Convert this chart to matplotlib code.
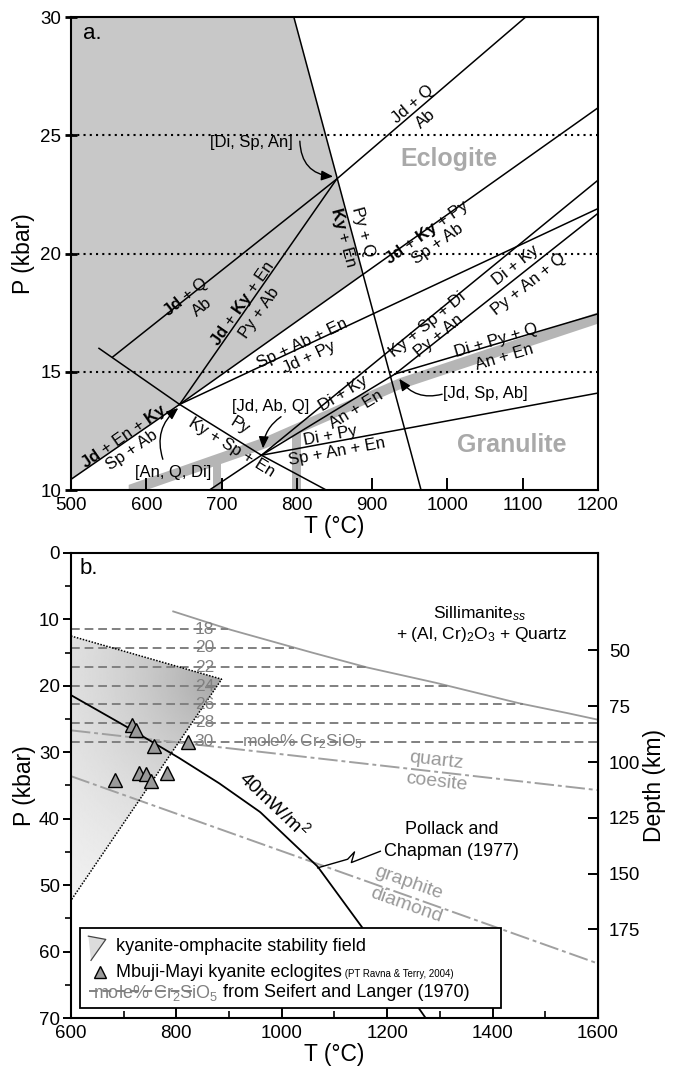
import numpy as np
import matplotlib.pyplot as plt
from matplotlib.patches import Polygon, Rectangle

plt.rcParams['font.family'] = ['Liberation Sans', 'DejaVu Sans']
plt.rcParams['mathtext.fontset'] = 'custom'
plt.rcParams['mathtext.rm'] = 'Liberation Sans'
plt.rcParams['mathtext.bf'] = 'Liberation Sans:bold'
plt.rcParams['mathtext.it'] = 'Liberation Sans:italic'

# ---------------- panel a: petrogenetic grid (T in degC, P in kbar)
inv_DiSpAn = (853, 23.15)
inv_AnQDi = (644.3, 13.62)
inv_JdAbQ = (753, 11.47)
inv_JdSpAb = (930.7, 14.91)

KyEn_PyQ = ([796, 965], [30, 10])
JdQ_Ab = ([555.6, 853, 1104], [15.63, 23.15, 30])
JdKyEn_PyAb = ([644.3, 853], [13.62, 23.15])
JdKyPy_SpAb = ([644.3, 1200], [13.62, 26.16])
SpAbEn_JdPy = ([644.3, 1200], [13.62, 21.9])
JdEnKy_SpAb = ([500, 644.3], [10.45, 13.62])
KySpEn_Py = ([537.2, 644.3, 753, 839], [15.99, 13.62, 11.47, 10])
DiKy_AnEn = ([684, 753, 930.7], [10, 11.47, 14.91])
KySpDi_PyAn = ([753, 1200], [11.47, 23.1])
DiPy_SpAnEn = ([753, 1200], [11.47, 14.1])
DiPyQ_AnEn = ([930.7, 1200], [14.91, 17.45])
DiKy_PyAnQ = ([930.7, 1200], [14.91, 21.7])

band_T = [576, 756, 935, 1200]
band_P = [10.0, 12.0, 14.5, 17.3]
bar_T = [(689, 699), (794, 806)]
dotted_P = [15, 20, 25]

# ---------------- panel b
sill_T = [794, 900, 1039, 1160, 1285, 1449, 1530, 1600]
sill_P = [8.8, 11.5, 14.6, 17.2, 19.4, 22.6, 23.9, 25.1]
iso_P = [11.45, 14.26, 17.18, 20.04, 22.75, 25.56, 28.42]
iso_lab = ['18', '20', '22', '24', '26', '28', '30']
qz_coe = ([600, 1600], [26.7, 35.7])
gr_dia = ([600, 1600], [33.6, 61.8])
geo_T = [600, 700, 800, 880, 959, 1068, 1154, 1273]
geo_P = [21.4, 25.9, 30.6, 34.6, 39.0, 47.2, 56.5, 70.0]
field_T = [600, 886, 600]
field_P = [12.5, 19.0, 52.3]
ecl_T = [716, 724, 757, 822, 684, 730, 742, 751, 782]
ecl_P = [25.9, 26.7, 29.1, 28.5, 34.2, 33.1, 33.2, 34.4, 33.1]
depth_ticks = [50, 75, 100, 125, 150, 175]


def p2d(p):
    return (np.asarray(p) + 2.13) / 0.336


def d2p(d):
    return 0.336 * np.asarray(d) - 2.13


def ang(ax, p0, p1):
    a = ax.transData.transform([p0, p1])
    return np.degrees(np.arctan2(a[1][1] - a[0][1], a[1][0] - a[0][0]))


def lab(ax, s, x, y, line, i=0, **kw):
    xs, ys = line
    r = ang(ax, (xs[i], ys[i]), (xs[i + 1], ys[i + 1]))
    kw.setdefault('fontsize', 12)
    ax.text(x, y, s, rotation=r, rotation_mode='anchor', ha='center',
            va='center', zorder=6, **kw)


fig = plt.figure(figsize=(6.74, 10.76), dpi=100)
axa = fig.add_axes([0.1053, 0.5446, 0.7819, 0.4396])
axb = fig.add_axes([0.1053, 0.0539, 0.7819, 0.4322])

# ================= panel a
axa.set_xlim(500, 1200)
axa.set_ylim(10, 30)

# grey field (left of Ky+En=Py+Q, above Jd+Ky+Py line)
t0, p0 = KyEn_PyQ
t1, p1 = JdKyPy_SpAb
m0 = (p0[1] - p0[0]) / (t0[1] - t0[0])
m1 = (p1[1] - p1[0]) / (t1[1] - t1[0])
tx = (p1[0] - m1 * t1[0] - p0[0] + m0 * t0[0]) / (m0 - m1)
px = p1[0] + m1 * (tx - t1[0])
shade = Polygon([(500, 30), (t0[0], 30), (tx, px), inv_AnQDi,
                 (JdEnKy_SpAb[0][0], JdEnKy_SpAb[1][0])],
                closed=True, facecolor='#c8c8c8', edgecolor='none', zorder=0)
axa.add_patch(shade)

bt = np.linspace(band_T[0], band_T[-1], 100)
bp = np.interp(bt, band_T, band_P)
axa.fill_between(bt, bp - 0.24, bp + 0.24, color='#b5b5b5', lw=0, zorder=1)
for a, b in bar_T:
    top = np.interp((a + b) / 2, band_T, band_P)
    axa.fill_between([a, b], [10, 10], [top, top], color='#b5b5b5', lw=0, zorder=1)

for p in dotted_P:
    axa.axhline(p, color='k', lw=1.5, ls=(0, (1, 2.0)), zorder=2)

for ln in [KyEn_PyQ, JdQ_Ab, JdKyEn_PyAb, JdKyPy_SpAb, SpAbEn_JdPy, JdEnKy_SpAb,
           KySpEn_Py, DiKy_AnEn, KySpDi_PyAn, DiPy_SpAnEn, DiPyQ_AnEn, DiKy_PyAnQ]:
    axa.plot(ln[0], ln[1], color='k', lw=1.1, zorder=3)

bf = r'$\mathbf{Jd}$'
bk = r'$\mathbf{Ky}$'
lab(axa, 'Jd + Q', 953.6, 26.3, JdQ_Ab, 1)
lab(axa, 'Ab', 971, 25.7, JdQ_Ab, 1)
lab(axa, bf + ' + Q', 652.9, 18.15, JdQ_Ab, 0)
lab(axa, 'Ab', 674.7, 17.75, JdQ_Ab, 0)
lab(axa, bf + ' + ' + bk + ' + En', 728.5, 17.86, JdKyEn_PyAb)
lab(axa, 'Py + Ab', 750, 17.5, JdKyEn_PyAb)
lab(axa, bk + ' + En', 861, 20.7, KyEn_PyQ)
lab(axa, 'Py + Q', 888, 20.9, KyEn_PyQ)
lab(axa, bf + ' + ' + bk + ' + Py', 973.6, 20.9, JdKyPy_SpAb)
lab(axa, 'Sp + Ab', 987, 20.4, JdKyPy_SpAb)
lab(axa, 'Sp + Ab + En', 807.6, 16.2, SpAbEn_JdPy)
lab(axa, 'Jd + Py', 816, 15.6, SpAbEn_JdPy)
lab(axa, 'Ky + Sp + Di', 973.6, 17.0, KySpDi_PyAn)
lab(axa, 'Py + An', 989, 16.5, KySpDi_PyAn)
lab(axa, 'Di + Ky', 1091, 19.5, DiKy_PyAnQ)
lab(axa, 'Py + An + Q', 1108, 18.7, DiKy_PyAnQ)
lab(axa, 'Di + Py + Q', 1065, 16.3, DiPyQ_AnEn)
lab(axa, 'An + En', 1075.6, 15.6, DiPyQ_AnEn)
lab(axa, 'Di + Ky', 862, 14.1, DiKy_AnEn, 1)
lab(axa, 'An + En', 879, 13.4, DiKy_AnEn, 1)
lab(axa, 'Py', 724.5, 12.7, KySpEn_Py, 1)
lab(axa, 'Ky + Sp + En', 713, 11.8, KySpEn_Py, 1)
lab(axa, 'Di + Py', 844.8, 12.3, DiPy_SpAnEn)
lab(axa, 'Sp + An + En', 853.4, 11.6, DiPy_SpAnEn)
lab(axa, bf + ' + En + ' + bk, 569.9, 12.26, JdEnKy_SpAb)
lab(axa, 'Sp + Ab', 581.3, 11.68, JdEnKy_SpAb)

axa.text(1002, 24.0, 'Eclogite', color='#a9a9a9', fontsize=18, fontweight='bold',
         ha='center', va='center', zorder=6)
axa.text(1085, 11.9, 'Granulite', color='#a9a9a9', fontsize=18, fontweight='bold',
         ha='center', va='center', zorder=6)
axa.text(516, 29.3, 'a.', fontsize=16, ha='left', va='center')

ap = dict(arrowstyle='-|>,head_length=0.7,head_width=0.3', color='k', lw=1.0,
          shrinkA=0, shrinkB=1)
axa.text(739, 24.7, '[Di, Sp, An]', fontsize=12, ha='center', va='center', zorder=6)
axa.annotate('', xy=(850, 23.25), xytext=(804, 24.75),
             arrowprops=dict(ap, connectionstyle='arc3,rad=0.45'), zorder=6)
axa.text(1051, 14.1, '[Jd, Sp, Ab]', fontsize=12, ha='center', va='center', zorder=6)
axa.annotate('', xy=(935, 14.75), xytext=(993, 14.05),
             arrowprops=dict(ap, connectionstyle='arc3,rad=-0.35'), zorder=6)
axa.text(765, 13.55, '[Jd, Ab, Q]', fontsize=12, ha='center', va='center', zorder=6)
axa.annotate('', xy=(755, 11.7), xytext=(779, 13.1),
             arrowprops=dict(ap, connectionstyle='arc3,rad=0.25'), zorder=6)
axa.text(636, 10.75, '[An, Q, Di]', fontsize=12, ha='center', va='center', zorder=6)
axa.annotate('', xy=(644, 13.5), xytext=(622, 11.3),
             arrowprops=dict(ap, connectionstyle='arc3,rad=-0.35'), zorder=6)

axa.set_xticks(range(500, 1201, 100))
axa.set_yticks(range(10, 31, 5))
axa.tick_params(axis='x', direction='in', length=9, width=1.4, labelsize=13.5, pad=5)
axa.tick_params(axis='y', direction='inout', length=8, width=2, labelsize=13.5, pad=3)
axa.set_xlabel('T (°C)', fontsize=16.5, labelpad=1)
axa.set_ylabel('P (kbar)', fontsize=16.5, labelpad=4)
for s in axa.spines.values():
    s.set_linewidth(1.5)

# ================= panel b
axb.set_xlim(600, 1600)
axb.set_ylim(70, 0)

# kyanite-omphacite field with grey gradient
gt = np.linspace(600, 900, 200)
gp = np.linspace(10, 55, 300)
GT, GP = np.meshgrid(gt, gp)
dd = np.hypot((GT - field_T[1]) / 1000, (GP - field_P[1]) / 70 * (465 / 525))
Z = 1 - 0.36 * np.exp(-dd / 0.27)
im = axb.imshow(Z, extent=[600, 900, 55, 10], origin='upper', cmap='gray',
                vmin=0, vmax=1, aspect='auto', zorder=0, interpolation='bilinear')
field = Polygon(list(zip(field_T, field_P)), closed=False, facecolor='none',
                edgecolor='k', lw=1.1, ls=(0, (1, 1)), zorder=3)
axb.add_patch(field)
im.set_clip_path(field)

st = np.linspace(sill_T[0], sill_T[-1], 200)
axb.plot(st, np.interp(st, sill_T, sill_P), color='#9a9a9a', lw=1.3, zorder=2)

for p, s in zip(iso_P, iso_lab):
    tend = min(np.interp(p, sill_P, sill_T), 1600) if p < sill_P[-1] else 1600
    axb.plot([600, tend], [p, p], color='#808080', lw=1.4, ls=(0, (4.5, 2.5)), zorder=2)
    axb.text(853, p, s, color='#808080', fontsize=12.5, ha='center', va='center', zorder=5)
axb.text(1039, iso_P[-1], r'mole% Cr$_2$SiO$_5$', color='#808080', fontsize=12.5,
         ha='center', va='center', zorder=5)

for ln in [qz_coe, gr_dia]:
    axb.plot(ln[0], ln[1], color='#a0a0a0', lw=1.4, ls=(0, (10, 2, 2, 2)), zorder=2)
lab(axb, 'quartz', 1293, 31.3, qz_coe, color='#999999', fontsize=14)
lab(axb, 'coesite', 1293, 34.5, qz_coe, color='#999999', fontsize=14)
lab(axb, 'graphite', 1240, 49.6, gr_dia, color='#999999', fontsize=14)
lab(axb, 'diamond', 1236, 53.1, gr_dia, color='#999999', fontsize=14)

gt2 = np.linspace(geo_T[0], geo_T[-1], 300)
axb.plot(gt2, np.interp(gt2, geo_T, geo_P), color='k', lw=1.3, zorder=3)
lab(axb, r'40mW/m$^2$', 985, 37.8, (geo_T, geo_P), 4, fontsize=14)
axb.plot([1068, 1125, 1138, 1132, 1187], [47.4, 46.1, 45.0, 46.6, 44.9],
         color='k', lw=1.0, zorder=3)
axb.text(1322, 41.7, 'Pollack and', fontsize=13, ha='center', va='center')
axb.text(1322, 44.9, 'Chapman (1977)', fontsize=13, ha='center', va='center')

axb.plot(ecl_T, ecl_P, ls='none', marker='^', ms=10, mfc='#9a9a9a', mec='k',
         mew=1.0, zorder=5)

axb.text(1375, 9.1, r'Sillimanite$_{ss}$', fontsize=12.5, ha='center', va='center')
axb.text(1380, 12.2, r'+ (Al, Cr)$_2$O$_3$ + Quartz', fontsize=12.5, ha='center',
         va='center')
axb.text(616, 2.4, 'b.', fontsize=16, ha='left', va='center')

# legend box
T = axb.transAxes
axb.add_patch(Rectangle((0.018, 0.021), 0.798, 0.172, transform=T, facecolor='white',
                        edgecolor='k', lw=1.3, zorder=7))
icon = Polygon([(0.033, 0.176), (0.066, 0.169), (0.038, 0.124)], closed=True,
               transform=T, facecolor='#dcdcdc', edgecolor='none', zorder=8)
axb.add_patch(icon)
axb.plot([0.033, 0.066, 0.038], [0.176, 0.169, 0.124], transform=T, color='#444444',
         lw=0.9, zorder=8)
axb.text(0.086, 0.153, 'kyanite-omphacite stability field', transform=T,
         fontsize=13, va='center', ha='left', zorder=8)
axb.plot([0.056], [0.098], transform=T, ls='none', marker='^', ms=8, mfc='#9a9a9a',
         mec='k', mew=1.0, zorder=8)
t1 = axb.text(0.085, 0.098, 'Mbuji-Mayi kyanite eclogites', transform=T,
              fontsize=13, va='center', ha='left', zorder=8)
axb.annotate(' (PT Ravna & Terry, 2004)', xy=(1, 0.4), xycoords=t1, fontsize=7,
             va='center', ha='left', zorder=8)
t2 = axb.text(0.042, 0.054, r'mole% Cr$_2$SiO$_5$', transform=T, color='#808080',
              fontsize=13, va='center', ha='left', zorder=8)
axb.plot([0.034, 0.23], [0.057, 0.057], transform=T, color='#808080', lw=1.4,
         ls=(0, (4.5, 2.5)), zorder=8)
axb.annotate(' from Seifert and Langer (1970)', xy=(1, 0.5), xycoords=t2,
             fontsize=13, va='center', ha='left', zorder=8)

axb.set_xticks(range(600, 1601, 200))
axb.set_xticks(range(700, 1600, 200), minor=True)
axb.set_yticks(range(0, 71, 10))
axb.set_yticks(range(5, 70, 10), minor=True)
axb.tick_params(axis='x', which='major', direction='in', length=9, width=1.4,
                labelsize=13.5, pad=5)
axb.tick_params(axis='x', which='minor', direction='in', length=5, width=1.2)
axb.tick_params(axis='y', which='major', direction='out', length=6, width=1.4,
                labelsize=13.5, pad=2)
axb.tick_params(axis='y', which='minor', direction='out', length=4, width=1.2)
axb.set_xlabel('T (°C)', fontsize=16.5, labelpad=1)
axb.set_ylabel('P (kbar)', fontsize=16.5, labelpad=2)
for s in axb.spines.values():
    s.set_linewidth(1.5)

sec = axb.secondary_yaxis('right', functions=(p2d, d2p))
sec.set_yticks(depth_ticks)
sec.tick_params(direction='in', length=7, width=1.4, labelsize=13.5, pad=8)
sec.set_ylabel('Depth (km)', fontsize=16.5, labelpad=2)

fig.savefig('out.png', dpi=100)
